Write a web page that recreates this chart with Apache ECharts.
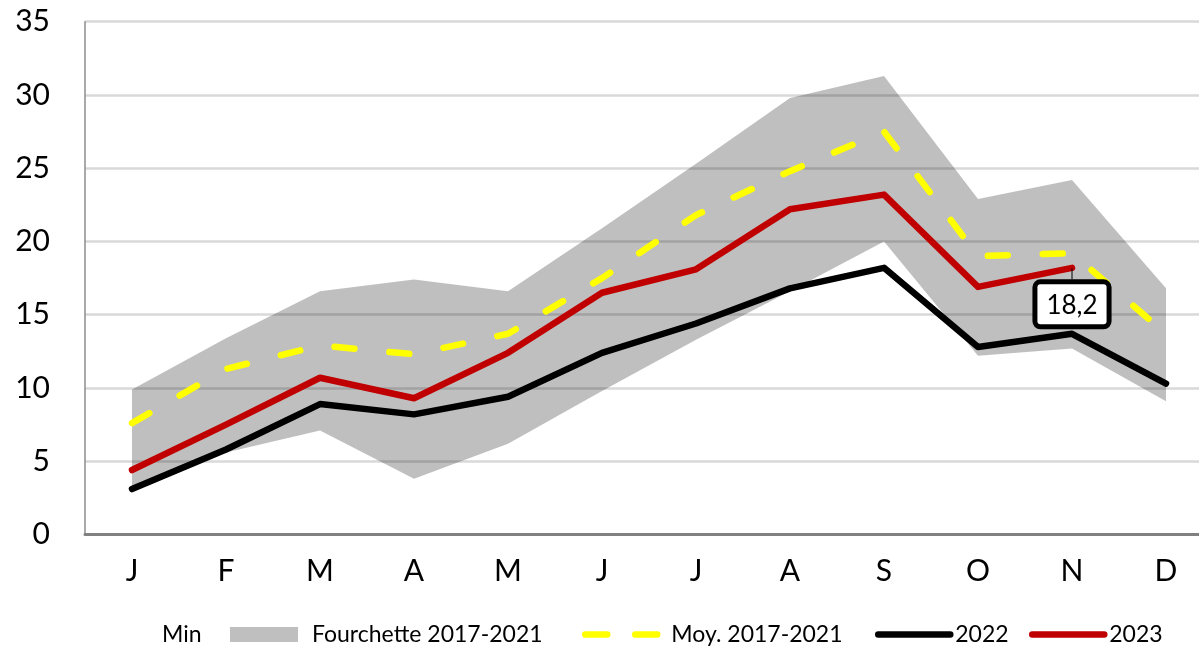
<!DOCTYPE html>
<html>
<head>
<meta charset="utf-8">
<script src="https://cdn.jsdelivr.net/npm/echarts@6/dist/echarts.min.js"></script>
<style>
html,body{margin:0;padding:0;background:#fff;}
#chart{width:1199px;height:646px;}
</style>
</head>
<body>
<div id="chart"></div>
<script>
const months = ['J','F','M','A','M','J','J','A','S','O','N','D'];
const yTicks = [0, 5, 10, 15, 20, 25, 30, 35];
const rangeMin = [3.3, 5.6, 7.1, 3.8, 6.2, 9.8, 13.3, 16.6, 20.0, 12.2, 12.7, 9.1];
const rangeMax = [9.9, 13.4, 16.6, 17.4, 16.6, 20.9, 25.3, 29.8, 31.3, 22.9, 24.2, 16.8];
const avg2017_2021 = [7.6, 11.3, 12.9, 12.3, 13.7, 17.5, 21.8, 24.8, 27.5, 19.0, 19.2, 13.7];
const v2022 = [3.1, 5.8, 8.9, 8.2, 9.4, 12.4, 14.4, 16.8, 18.2, 12.8, 13.7, 10.3];
const v2023 = [4.4, 7.5, 10.7, 9.3, 12.4, 16.5, 18.1, 22.2, 23.2, 16.9, 18.2, null];
const labelIndex = 10;

const FONT = 'Lato';
const rangeSpan = rangeMax.map((v, i) => +(v - rangeMin[i]).toFixed(2));
const data2023 = v2023.map((v, i) => i === labelIndex ? {
  value: v,
  symbolSize: 1,
  label: {
    show: true,
    position: 'top',
    distance: 4,
    formatter: p => String(p.value).replace('.', ','),
    fontFamily: FONT, fontSize: 26, color: '#000',
    backgroundColor: '#fff', borderColor: '#000', borderWidth: 5, borderRadius: 3,
    padding: [8, 9, 6, 9]
  },
  labelLine: { show: true, lineStyle: { color: '#000', width: 1 } }
} : v);

const chart = echarts.init(document.getElementById('chart'), null, { renderer: 'canvas' });
const legendText = { fontFamily: FONT, fontSize: 23, color: '#000' };
const legendBase = {
  top: 623, padding: 0, itemHeight: 14, textStyle: legendText,
  itemStyle: { opacity: 0 },
  lineStyle: { width: 6.5, cap: 'round' }
};
chart.setOption({
  animation: false,
  grid: { left: 85, right: -14, top: 21.7, bottom: 111.5, containLabel: false, outerBoundsMode: 'none' },
  legend: [
    Object.assign({}, legendBase, { left: 157, itemWidth: 0, data: [{ name: 'Min', icon: 'none' }] }),
    Object.assign({}, legendBase, { left: 230, itemWidth: 68, itemHeight: 15, itemStyle: {}, data: [{ name: 'Fourchette 2017-2021', icon: 'rect' }], textStyle: Object.assign({}, legendText, { padding: [0, 0, 0, 9] }) }),
    Object.assign({}, legendBase, { left: 582, itemWidth: 74, data: ['Moy. 2017-2021'], lineStyle: { width: 6.5, type: [22, 28], cap: 'round' }, textStyle: Object.assign({}, legendText, { padding: [0, 0, 0, 7] }) }),
    Object.assign({}, legendBase, { left: 875, itemWidth: 72, data: ['2022'] }),
    Object.assign({}, legendBase, { left: 1029, itemWidth: 72, data: ['2023'] })
  ],
  xAxis: {
    type: 'category',
    data: months,
    boundaryGap: true,
    axisLine: { show: true, lineStyle: { color: '#808080', width: 3 } },
    axisTick: { show: false },
    axisLabel: { fontFamily: FONT, fontSize: 30, color: '#000', margin: 22, interval: 0 },
    splitLine: { show: false }
  },
  yAxis: {
    type: 'value',
    min: yTicks[0],
    max: yTicks[yTicks.length - 1],
    interval: 5,
    axisLine: { show: true, lineStyle: { color: '#8c8c8c', width: 1.5 } },
    axisTick: { show: false },
    axisLabel: { fontFamily: FONT, fontSize: 30, color: '#000', margin: 35 },
    splitLine: { show: true, lineStyle: { color: '#d9d9d9', width: 2.5 } }
  },
  series: [
    {
      name: 'Min', type: 'line', stack: 'range', data: rangeMin,
      symbol: 'none', lineStyle: { opacity: 0, width: 0 }, itemStyle: { color: 'rgba(0,0,0,0)' }, silent: true
    },
    {
      name: 'Fourchette 2017-2021', type: 'line', stack: 'range', data: rangeSpan,
      symbol: 'none', lineStyle: { opacity: 0, width: 0 },
      itemStyle: { color: 'rgba(0,0,0,0.25)' },
      areaStyle: { color: 'rgba(0,0,0,0.25)', opacity: 1 }, silent: true
    },
    {
      name: 'Moy. 2017-2021', type: 'line', data: avg2017_2021, symbol: 'none',
      itemStyle: { color: '#ffff00' },
      lineStyle: { color: '#ffff00', width: 6.5, type: [20, 35], cap: 'round', join: 'round' }
    },
    {
      name: '2022', type: 'line', data: v2022, symbol: 'none',
      itemStyle: { color: '#000000' },
      lineStyle: { color: '#000000', width: 6.5, cap: 'round', join: 'round' }
    },
    {
      name: '2023', type: 'line', data: data2023,
      symbol: 'circle', symbolSize: 0, showSymbol: true,
      itemStyle: { color: '#c00000' },
      lineStyle: { color: '#c00000', width: 6.5, cap: 'round', join: 'round' },
      labelLayout: { dy: 61 },
      z: 5
    }
  ]
});
</script>
</body>
</html>
